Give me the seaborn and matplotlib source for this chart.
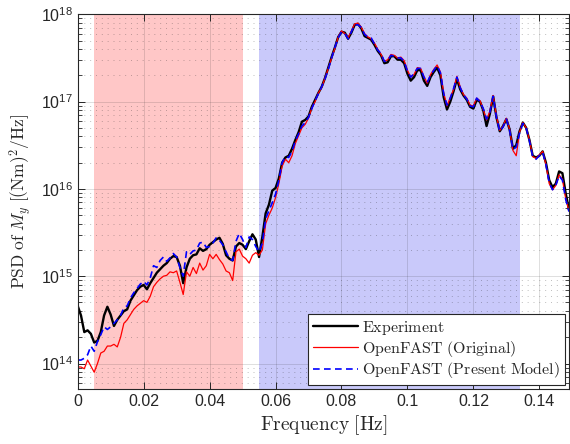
import numpy as np
import pandas as pd
import matplotlib
matplotlib.use("Agg")
import matplotlib.pyplot as plt
import seaborn as sns
from matplotlib.ticker import LogLocator, FuncFormatter, NullFormatter, NullLocator

# Frequency grid [Hz]
freq = np.round(np.arange(0, 150) * 0.001, 3)

# log10 of PSD of M_y [(Nm)^2/Hz]
experiment = [
    14.66, 14.55, 14.36, 14.38, 14.34, 14.24, 14.26, 14.36, 14.55, 14.65,
    14.56, 14.43, 14.50, 14.55, 14.60, 14.62, 14.72, 14.78, 14.84, 14.88,
    14.90, 14.85, 14.92, 14.98, 15.04, 15.08, 15.12, 15.15, 15.20, 15.23,
    15.22, 15.12, 14.92, 15.10, 15.20, 15.24, 15.25, 15.32, 15.29, 15.31,
    15.36, 15.39, 15.42, 15.44, 15.37, 15.24, 15.20, 15.18, 15.34, 15.38,
    15.36, 15.31, 15.40, 15.48, 15.42, 15.22, 15.45, 15.72, 15.82, 15.98,
    16.01, 16.12, 16.30, 16.36, 16.38, 16.46, 16.56, 16.65, 16.77, 16.79,
    16.83, 16.94, 17.02, 17.10, 17.17, 17.27, 17.39, 17.51, 17.62, 17.74,
    17.80, 17.79, 17.72, 17.79, 17.88, 17.89, 17.84, 17.75, 17.73, 17.71,
    17.65, 17.58, 17.53, 17.44, 17.45, 17.52, 17.52, 17.48, 17.48, 17.44,
    17.32, 17.24, 17.28, 17.36, 17.36, 17.24, 17.18, 17.28, 17.34, 17.39,
    17.30, 17.05, 16.91, 17.00, 17.12, 17.26, 17.14, 17.07, 17.02, 16.94,
    16.92, 17.02, 17.00, 16.90, 16.72, 16.86, 17.06, 16.82, 16.66, 16.72,
    16.80, 16.68, 16.46, 16.50, 16.66, 16.76, 16.70, 16.56, 16.38, 16.36,
    16.38, 16.43, 16.30, 16.10, 16.02, 16.06, 16.20, 16.18, 15.95, 15.76,
]

original = [
    13.96, 13.96, 13.94, 14.04, 13.97, 13.90, 14.00, 14.12, 14.14, 14.20,
    14.20, 14.22, 14.19, 14.30, 14.46, 14.50, 14.56, 14.62, 14.66, 14.69,
    14.72, 14.70, 14.77, 14.88, 14.93, 14.97, 15.00, 15.01, 15.05, 15.04,
    15.06, 14.93, 14.79, 15.05, 15.00, 15.10, 15.03, 15.15, 15.07, 15.12,
    15.25, 15.20, 15.25, 15.19, 15.14, 15.06, 15.04, 14.95, 15.28, 15.31,
    15.23, 15.20, 15.15, 15.24, 15.27, 15.24, 15.30, 15.60, 15.70, 15.78,
    15.90, 16.06, 16.26, 16.34, 16.30, 16.38, 16.52, 16.61, 16.70, 16.74,
    16.81, 16.93, 17.00, 17.10, 17.16, 17.27, 17.38, 17.50, 17.61, 17.74,
    17.81, 17.78, 17.73, 17.81, 17.89, 17.90, 17.85, 17.78, 17.74, 17.72,
    17.67, 17.60, 17.54, 17.46, 17.48, 17.54, 17.53, 17.50, 17.51, 17.47,
    17.36, 17.28, 17.31, 17.39, 17.38, 17.29, 17.21, 17.31, 17.37, 17.42,
    17.34, 17.10, 16.95, 17.05, 17.14, 17.29, 17.17, 17.08, 17.04, 16.96,
    16.95, 17.04, 17.01, 16.91, 16.79, 16.89, 17.07, 16.83, 16.67, 16.72,
    16.81, 16.68, 16.44, 16.38, 16.65, 16.76, 16.70, 16.56, 16.37, 16.35,
    16.39, 16.43, 16.28, 16.06, 15.99, 16.04, 16.16, 16.11, 15.89, 15.75,
]

present = [
    14.04, 14.04, 14.06, 14.10, 14.20, 14.14, 14.25, 14.33, 14.42, 14.39,
    14.42, 14.46, 14.50, 14.55, 14.64, 14.66, 14.75, 14.81, 14.86, 14.91,
    14.94, 14.90, 14.98, 15.12, 15.10, 15.18, 15.22, 15.17, 15.21, 15.26,
    15.22, 15.10, 15.00, 15.28, 15.25, 15.29, 15.30, 15.38, 15.39, 15.33,
    15.34, 15.38, 15.44, 15.41, 15.36, 15.28, 15.20, 15.18, 15.40, 15.49,
    15.42, 15.33, 15.45, 15.42, 15.34, 15.28, 15.38, 15.66, 15.75, 15.84,
    15.94, 16.10, 16.30, 16.37, 16.36, 16.43, 16.55, 16.63, 16.72, 16.76,
    16.82, 16.92, 17.01, 17.09, 17.17, 17.26, 17.37, 17.50, 17.62, 17.73,
    17.80, 17.78, 17.72, 17.80, 17.88, 17.88, 17.85, 17.77, 17.74, 17.73,
    17.66, 17.59, 17.55, 17.46, 17.47, 17.53, 17.52, 17.50, 17.50, 17.46,
    17.35, 17.28, 17.32, 17.38, 17.38, 17.28, 17.22, 17.30, 17.36, 17.41,
    17.33, 17.09, 16.96, 17.04, 17.15, 17.28, 17.16, 17.08, 17.03, 16.95,
    16.94, 17.04, 17.00, 16.92, 16.80, 16.88, 17.06, 16.82, 16.66, 16.71,
    16.80, 16.67, 16.45, 16.48, 16.64, 16.75, 16.70, 16.55, 16.37, 16.34,
    16.38, 16.42, 16.28, 16.07, 15.99, 16.04, 16.15, 16.10, 15.88, 15.74,
]

labels = [r"$\mathrm{Experiment}$",
          r"$\mathrm{OpenFAST\ (Original)}$",
          r"$\mathrm{OpenFAST\ (Present\ Model)}$"]

# Frequency bands highlighted on the plot [Hz]
band_low = (0.005, 0.050)
band_high = (0.055, 0.134)

df = pd.DataFrame({
    "freq": np.tile(freq, 3),
    "psd": 10.0 ** np.concatenate([experiment, original, present]),
    "series": np.repeat(labels, len(freq)),
})

sns.set_style("ticks")
plt.rcParams["font.family"] = ["Liberation Sans", "DejaVu Sans"]
plt.rcParams["mathtext.fontset"] = "cm"

fig = plt.figure(figsize=(5.7, 4.44), dpi=100)
ax = fig.add_axes([77.7 / 570, 1 - 389 / 444, (569 - 77.7) / 570, (389 - 14.3) / 444])

ax.axvspan(*band_low, color=(1.0, 0.78, 0.78), lw=0, zorder=0.2)
ax.axvspan(*band_high, color=(0.79, 0.79, 0.98), lw=0, zorder=0.2)

styles = {
    labels[0]: dict(color="black", linewidth=1.7, linestyle="-"),
    labels[1]: dict(color="#ff0000", linewidth=0.9, linestyle="-"),
    labels[2]: dict(color="#0000ff", linewidth=1.2, linestyle=(0, (4, 2.6))),
}
for lab in labels:
    sub = df[df["series"] == lab]
    sns.lineplot(data=sub, x="freq", y="psd", ax=ax, label=lab, **styles[lab])

ax.set_yscale("log")
ax.set_xlim(0, 0.149)
ax.set_ylim(10 ** 13.708, 1e18)

ax.set_xticks(np.arange(0, 0.1401, 0.02))
ax.xaxis.set_major_formatter(FuncFormatter(lambda v, p: "%g" % round(v, 3)))
ax.xaxis.set_minor_locator(NullLocator())
ax.yaxis.set_major_locator(LogLocator(base=10))
ax.yaxis.set_minor_locator(LogLocator(base=10, subs=np.arange(2, 10)))
ax.yaxis.set_minor_formatter(NullFormatter())

edge = "#262626"
ax.tick_params(which="both", direction="in", top=True, right=True,
               colors=edge, labelsize=11.5)
ax.tick_params(which="major", length=5, width=0.7)
ax.tick_params(which="minor", length=3, width=0.6)
for s in ax.spines.values():
    s.set_color(edge)
    s.set_linewidth(0.8)

ax.set_axisbelow(True)
ax.grid(which="major", color=edge, alpha=0.15, linewidth=0.7)
ax.yaxis.grid(which="minor", color=edge, alpha=0.3, linestyle=(0, (1, 5)),
              linewidth=0.7)

ax.set_xlabel(r"$\mathrm{Frequency\ [Hz]}$", fontsize=14, color=edge, labelpad=3)
ax.set_ylabel(r"$\mathrm{PSD}$ $\mathrm{of}$ $M_y$ $[(\mathrm{Nm})^2/\mathrm{Hz}]$",
              fontsize=12.5, color=edge, labelpad=5)

leg = ax.legend(loc="lower right", fontsize=11.5, frameon=True, fancybox=False,
                edgecolor=edge, framealpha=1, borderaxespad=0.25,
                handlelength=2.8, borderpad=0.3, labelspacing=0.1,
                handletextpad=0.3)
leg.get_frame().set_linewidth(0.8)

fig.savefig("out.png", dpi=100)
